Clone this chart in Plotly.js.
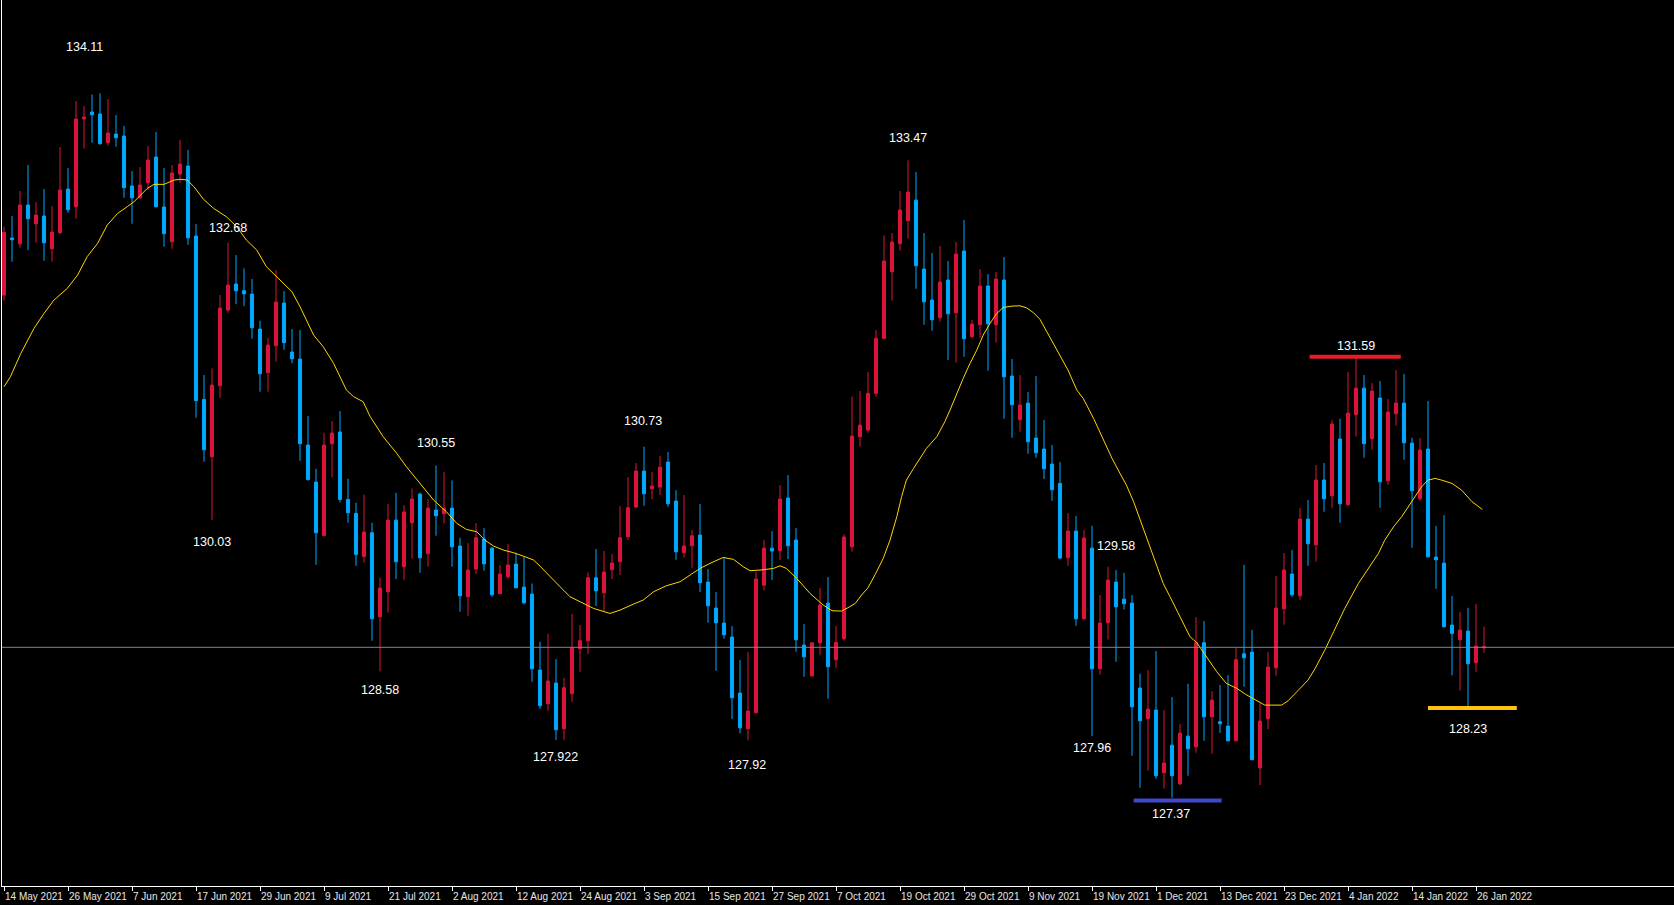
<!DOCTYPE html>
<html>
<head>
<meta charset="utf-8">
<script src="https://cdn.plot.ly/plotly-3.0.1.min.js"></script>
<style>
html,body{margin:0;padding:0;background:#000;}
#chart{width:1674px;height:905px;}
</style>
</head>
<body>
<div id="chart"></div>
<script>
// Daily EURJPY-style candles, 14 May 2021 -> 27 Jan 2022 (bar index 0..185)
const openP = [
132.18,132.726,132.672,133.042,132.863,132.937,132.624,132.777,133.195,133.026,
133.865,133.932,133.913,133.638,133.721,133.702,133.224,133.112,133.256,133.501,
133.023,132.691,133.339,133.415,132.745,131.182,130.634,131.313,132.037,132.286,
132.222,132.19,131.855,131.437,131.696,132.104,131.635,131.568,130.745,130.391,
129.881,130.758,130.87,130.225,130.091,129.68,129.906,129.102,129.342,130.027,
129.581,130.002,130.276,129.705,130.123,130.088,130.142,129.779,129.294,129.559,
129.846,129.76,129.323,129.485,129.606,129.386,129.319,128.592,128.27,128.468,
128.031,128.366,128.796,128.873,129.475,129.332,129.552,129.629,129.868,130.152,
130.496,130.327,130.343,130.582,130.209,129.715,129.782,129.884,129.434,129.185,
129.042,128.908,128.372,128.03,128.184,129.405,129.759,129.734,130.238,129.836,
128.831,128.537,128.853,129.233,128.691,128.892,129.772,130.825,130.889,131.24,
131.766,132.404,132.672,132.892,133.089,132.429,132.133,131.964,132.324,132.011,
132.602,131.782,131.897,132.267,131.897,132.324,131.405,130.988,131.147,130.812,
130.707,130.563,130.378,129.667,129.922,129.083,129.759,128.605,129.045,129.434,
129.271,129.233,128.42,128.126,128.209,127.61,127.874,127.504,127.96,127.858,
128.854,128.145,128.098,128.056,127.916,128.748,128.764,127.657,128.126,128.614,
129.179,129.511,129.303,130.037,129.791,130.41,130.26,130.803,130.174,131.035,
131.29,130.806,131.195,130.404,131.045,131.147,130.764,130.232,130.707,129.673,
129.616,129.023,128.882,128.965,128.662,128.806];
const highP = [
132.835,132.937,133.176,133.425,133.07,133.195,133.032,133.597,133.396,134.037,
133.989,134.10,134.11,134.056,133.903,133.798,133.367,133.405,133.606,133.74,
133.396,133.425,133.664,133.568,132.86,131.415,131.479,132.181,132.68,132.563,
132.436,132.334,131.935,131.769,132.42,132.219,131.855,131.846,131.023,130.519,
130.863,130.975,131.071,130.423,130.193,130.27,130.002,129.476,130.181,130.289,
130.171,130.33,130.29,130.228,130.55,130.49,130.407,129.858,129.807,129.999,
129.95,129.763,129.597,129.798,129.715,129.677,129.421,128.863,128.94,128.697,
128.519,129.131,129.023,129.527,129.75,129.731,129.702,130.161,130.439,130.573,
130.73,130.487,130.64,130.678,130.314,130.267,129.932,130.181,129.558,129.338,
129.67,129.013,128.688,128.764,129.53,129.836,129.922,130.362,130.458,129.951,
129.032,128.86,129.377,129.482,129.013,129.893,131.208,131.262,131.444,131.846,
132.752,132.774,133.176,133.47,133.357,132.774,132.583,132.65,132.506,132.688,
132.898,131.941,132.429,132.381,132.401,132.544,131.568,131.415,131.252,131.405,
130.984,130.745,130.582,130.094,130.066,129.932,129.973,129.31,129.58,129.549,
129.523,129.31,128.557,128.592,128.774,128.209,128.334,128.075,128.461,129.099,
129.061,128.391,128.449,128.544,128.806,129.6,128.975,128.283,128.764,129.492,
129.712,129.74,130.142,130.219,130.554,130.573,130.984,130.997,131.444,131.59,
131.415,131.338,131.358,131.185,131.463,131.424,130.815,130.812,131.166,129.97,
130.075,129.3,129.147,129.188,129.224,129.007];
const lowP = [
132.126,132.50,132.634,132.611,132.681,132.509,132.50,132.764,132.968,132.911,
133.581,133.638,133.62,133.61,133.60,133.112,132.863,133.102,133.185,133.02,
132.643,132.624,133.256,132.662,131.007,130.586,130.03,131.198,132.011,132.094,
132.075,131.763,131.256,131.256,131.543,131.657,131.527,130.595,130.404,129.60,
129.87,130.436,130.197,130.002,129.59,129.619,128.873,128.58,129.141,129.463,
129.456,129.657,129.524,129.581,129.878,129.996,129.581,129.15,129.112,129.511,
129.543,129.294,129.32,129.466,129.374,129.221,128.48,128.222,128.203,127.922,
127.925,128.289,128.576,128.745,129.205,129.15,129.463,129.501,129.839,130.142,
130.164,130.228,130.267,130.155,129.648,129.667,129.571,129.338,129.045,128.585,
128.892,128.123,127.986,127.92,128.18,129.357,129.453,129.645,129.654,128.768,
128.528,128.53,128.735,128.318,128.614,128.873,129.724,130.729,130.863,131.208,
131.76,132.126,132.605,132.72,132.241,131.897,131.839,131.925,131.559,131.533,
131.591,131.772,131.769,131.457,131.725,130.997,130.815,130.873,130.662,130.624,
130.42,130.212,129.654,129.59,129.016,129.073,127.96,128.547,128.885,128.672,
129.172,127.772,127.466,127.629,127.552,127.457,127.37,127.491,127.581,127.801,
127.916,127.791,127.992,127.91,127.91,128.433,127.731,127.492,128.027,128.538,
129.026,129.294,129.265,129.59,129.629,130.107,130.145,130.002,130.165,130.825,
130.624,130.70,130.145,130.366,130.93,130.605,129.763,130.212,129.67,129.37,
129.0,128.541,128.394,128.23,128.576,128.758];
const closeP = [
132.78,132.71,133.042,132.911,132.946,132.681,132.783,133.185,132.997,133.865,
133.884,133.906,133.629,133.731,133.686,133.208,133.112,133.233,133.472,133.026,
132.768,133.348,133.434,132.729,131.17,130.701,131.319,132.056,132.276,132.222,
132.193,131.868,131.428,131.702,132.114,131.725,131.571,130.758,130.416,129.906,
130.745,130.86,130.225,130.098,129.699,129.913,129.083,129.377,130.027,129.629,
130.104,130.228,129.667,130.142,130.069,130.139,129.772,129.303,129.549,129.858,
129.609,129.313,129.511,129.597,129.38,129.236,128.605,128.251,128.487,128.021,
128.423,128.806,128.873,129.475,129.351,129.53,129.616,129.858,130.145,130.496,
130.279,130.353,130.534,130.184,129.724,129.779,129.877,129.428,129.208,129.045,
128.93,128.327,128.04,128.2,129.463,129.759,129.731,130.228,129.782,128.882,
128.719,128.853,129.214,128.624,128.857,129.865,130.831,130.936,131.24,131.766,
132.506,132.688,132.994,133.166,132.461,132.117,131.944,132.305,132.002,132.573,
131.763,131.903,132.267,131.906,132.334,131.399,131.131,131.128,130.777,130.672,
130.519,130.318,129.664,129.922,129.083,129.855,128.605,129.042,129.453,129.198,
129.227,128.241,128.107,128.219,127.581,127.702,127.581,127.989,127.839,128.854,
128.145,128.305,128.079,127.916,128.691,128.71,127.734,128.104,128.621,129.185,
129.549,129.313,130.037,129.801,130.41,130.232,130.946,130.184,131.051,131.29,
130.758,131.262,130.394,131.061,131.147,130.767,130.308,130.697,129.676,129.648,
129.007,128.943,128.975,128.653,128.822,128.816];

// Moving average: bar position -> value
const maBar = [0,0.8,2.1,3.75,5,6.25,7.9,9.2,10.4,11.7,12.9,14.2,15.4,16.25,17.1,17.9,18.75,20,21.25,22.1,22.9,23.75,24.9,26.2,27.8,29.1,30.3,31.6,32.8,34.1,36,37,38.7,39.9,41.2,42.8,43.7,44.9,45.75,47.4,49.1,50.3,52,53.7,55.3,56.6,57.8,59.1,60.1,61.2,62.4,63.7,64.9,66.2,67,68.25,69.5,70.75,72,73.7,75.75,77,78.7,79.9,81.2,82.8,84.5,85.75,87,88.25,89.9,91.2,92.4,93.25,94.5,96.2,97,97.8,99.1,100.75,102.4,103.5,104.7,105.5,106.4,107.2,108,108.9,109.9,110.75,111.6,112.2,112.8,113.7,114.5,115.3,116.6,117.6,118.25,119.1,119.9,120.75,121.6,122.4,123.25,124.1,124.9,126,127,127.8,128.7,129.5,133,134.1,134.9,136.2,137.4,138.5,139.5,140.3,141.2,142.2,143.25,144.1,144.9,145.75,146.6,147.4,148.25,149.1,150.3,151.6,152.8,154.1,155.2,156.4,157.6,159.7,160.5,161.8,163,163.9,165.1,166.2,167.6,169.3,170.5,171.8,172.6,173.7,174.7,175.5,176.4,177.2,178,178.9,179.7,181,182.2,183.5,184.8];
const maVal = [131.303,131.399,131.622,131.862,132.005,132.133,132.244,132.372,132.548,132.675,132.85,132.962,133.026,133.074,133.138,133.201,133.24,133.24,133.281,133.288,133.281,133.217,133.10,133.01,132.93,132.834,132.707,132.611,132.452,132.356,132.212,132.069,131.798,131.686,131.527,131.272,131.208,131.16,131.02,130.825,130.665,130.538,130.378,130.219,130.107,129.996,129.938,129.916,129.836,129.779,129.741,129.715,129.683,129.645,129.587,129.485,129.39,129.294,129.246,129.182,129.134,129.166,129.224,129.262,129.342,129.399,129.437,129.501,129.565,129.613,129.67,129.651,129.581,129.543,129.549,129.565,129.59,129.565,129.469,129.326,129.214,129.16,129.157,129.189,129.23,129.31,129.38,129.507,129.66,129.836,130.059,130.251,130.41,130.522,130.618,130.713,130.825,130.968,131.08,131.24,131.383,131.527,131.654,131.798,131.909,132.005,132.062,132.075,132.078,132.059,132.011,131.948,131.463,131.272,131.192,131.0,130.793,130.618,130.474,130.362,130.203,129.995,129.772,129.581,129.421,129.294,129.166,129.039,128.911,128.854,128.72,128.576,128.464,128.417,128.36,128.311,128.257,128.257,128.298,128.4,128.496,128.608,128.783,128.959,129.182,129.421,129.565,129.708,129.836,129.964,130.059,130.155,130.251,130.346,130.41,130.426,130.41,130.378,130.314,130.203,130.129];

const dateLabels = ["14 May 2021","26 May 2021","7 Jun 2021","17 Jun 2021","29 Jun 2021","9 Jul 2021","21 Jul 2021","2 Aug 2021","12 Aug 2021","24 Aug 2021","3 Sep 2021","15 Sep 2021","27 Sep 2021","7 Oct 2021","19 Oct 2021","29 Oct 2021","9 Nov 2021","19 Nov 2021","1 Dec 2021","13 Dec 2021","23 Dec 2021","4 Jan 2022","14 Jan 2022","26 Jan 2022"];
const swingLabels = ["134.11","132.68","130.03","128.58","130.55","130.73","127.922","127.92","133.47","129.58","127.96","127.37","131.59","128.23"];
const levels = {resistance: 131.59, support: 127.37, recentLow: 128.23, lastPrice: 128.81};

const bars = openP.map((_, i) => i);
const tickVals = dateLabels.map((_, k) => k * 8);

const RED = '#dc143c', BLUE = '#00a8ff';

const traces = [
  {
    type: 'candlestick', x: bars, open: openP, high: highP, low: lowP, close: closeP,
    increasing: {line: {color: RED, width: 1}, fillcolor: RED},
    decreasing: {line: {color: BLUE, width: 1}, fillcolor: BLUE},
    whiskerwidth: 0, hoverinfo: 'none', showlegend: false
  },
  {
    type: 'scatter', mode: 'lines', x: maBar, y: maVal,
    line: {color: '#ffd700', width: 1}, hoverinfo: 'none', showlegend: false
  }
];

const lblFont = {family: 'Liberation Sans, Arial, sans-serif', size: 12.5, color: '#ffffff'};
const pos = [
  [10.0,134.554],[28.0,132.822],[26.0,129.817],[46.94,128.401],[54.0,130.764],[79.9,130.975],
  [68.9,127.759],[92.9,127.683],[113.0,133.683],[139.0,129.779],[136.0,127.846],[145.9,127.219],
  [169.0,131.692],[183.0,128.027]
];
const annotations = swingLabels.map((t, k) => ({
  text: t, x: pos[k][0], y: pos[k][1], xref: 'x', yref: 'y',
  showarrow: false, font: lblFont, xanchor: 'center', yanchor: 'middle'
}));

const shapes = [
  {type: 'line', xref: 'paper', yref: 'y', x0: 0, x1: 1, y0: levels.lastPrice, y1: levels.lastPrice,
   line: {color: '#778899', width: 1}},
  {type: 'line', xref: 'x', yref: 'y', x0: 163.2, x1: 174.6, y0: levels.resistance, y1: levels.resistance,
   line: {color: '#e41e26', width: 4}},
  {type: 'line', xref: 'x', yref: 'y', x0: 141.2, x1: 152.2, y0: levels.support - 0.025, y1: levels.support - 0.025,
   line: {color: '#3f48cc', width: 4}},
  {type: 'line', xref: 'x', yref: 'y', x0: 178.0, x1: 189.1, y0: levels.recentLow, y1: levels.recentLow,
   line: {color: '#ffc20e', width: 4}}
];

const layout = {
  width: 1674, height: 905,
  paper_bgcolor: '#000000', plot_bgcolor: '#000000',
  margin: {l: 2, r: 0, t: 0, b: 19, pad: 0},
  showlegend: false,
  boxgap: 0.45,
  xaxis: {
    type: 'linear', range: [-0.25, 208.75], rangeslider: {visible: false},
    showgrid: false, zeroline: false, showline: true, linecolor: '#ffffff', linewidth: 1,
    tickmode: 'array', tickvals: tickVals, ticktext: dateLabels, tickangle: 0,
    ticks: 'outside', ticklen: 4, tickwidth: 1, tickcolor: '#ffffff',
    ticklabelposition: 'outside right', ticklabelstandoff: 1,
    tickfont: {family: 'Liberation Sans, Arial, sans-serif', size: 10, color: '#e6e6e6'},
    automargin: false, fixedrange: true
  },
  yaxis: {
    range: [126.526, 135.004], showgrid: false, zeroline: false,
    showline: true, linecolor: '#ffffff', linewidth: 1,
    showticklabels: false, ticks: '', fixedrange: true
  },
  annotations: annotations,
  shapes: shapes
};

Plotly.newPlot('chart', traces, layout, {displayModeBar: false, staticPlot: true});
</script>
</body>
</html>
